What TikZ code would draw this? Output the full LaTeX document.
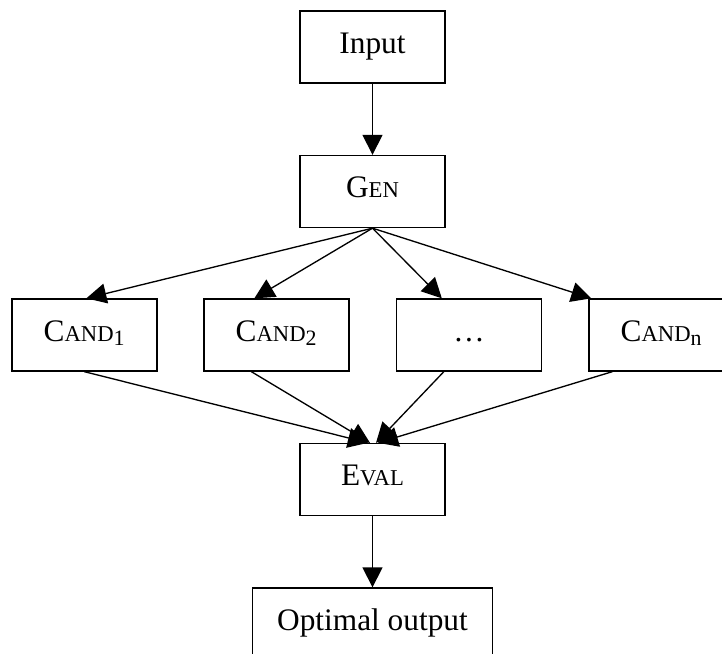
\documentclass[tikz,border=0pt]{standalone}
\usepackage{fontspec}
\setmainfont{Liberation Serif}
\usetikzlibrary{arrows.meta,calc}
\newcommand{\smcap}[1]{{\fontsize{17}{19}\selectfont #1}}

\begin{document}
\begin{tikzpicture}[x=0.75pt,y=-0.75pt,>={Triangle[length=15pt,width=15pt]},
        box/.style={draw,line width=1pt,minimum width=108.75pt,minimum height=54pt,
          inner sep=0pt,text height=17pt,text depth=8pt,font=\fontsize{23.5}{28}\selectfont},
        link/.style={->,line width=1pt}]
        % frame
        \useasboundingbox (0,0) rectangle (722,654);
        \clip (0,0) rectangle (722,654);
        % boxes
        \node[box] (inp) at (372.5,47) {Input};
        \node[box] (gen) at (372.5,191.5) {G\smcap{EN}};
        \node[box] (c1) at (84.5,335) {C\smcap{AND}\textsubscript{1}};
        \node[box] (c2) at (276.5,335) {C\smcap{AND}\textsubscript{2}};
        \node[box] (cdots) at (469,335) {\ldots};
        \node[box] (cn) at (661.5,335) {C\smcap{AND}\textsubscript{n}};
        \node[box] (eval) at (372.5,479.5) {E\smcap{VAL}};
        \node[box,minimum width=180pt] (out) at (372.5,624) {Optimal output};
        % arrows
        \draw[link] (inp.south) -- (gen.north);
        \foreach \c/\t/\s/\e in {c1/75/73/-4.5,c2/51/48/-2.5,cdots/46/48/3.5,cn/3/24/5.5}
          {
            \draw[link] (gen.south) -- ($(\c.north west)+(\t,0)$);
            \draw[link] ($(\c.south west)+(\s,0)$) -- ($(eval.north)+(\e,0)$);
          }
        \draw[link] (eval.south) -- (out.north);
      \end{tikzpicture}
\end{document}
